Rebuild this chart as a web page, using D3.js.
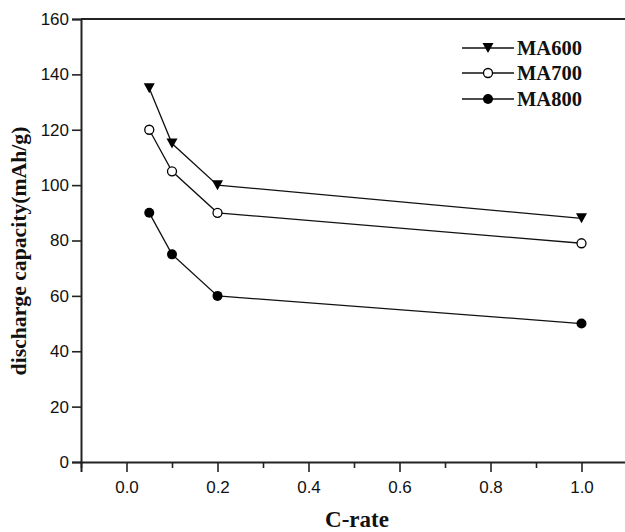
<!DOCTYPE html>
<html><head><meta charset="utf-8">
<script src="https://cdn.jsdelivr.net/npm/d3@7"></script>
<style>body{margin:0;background:#fff}svg{display:block}</style>
</head><body>
<svg id="c" width="625" height="532"></svg>
<script>
const xValues = [0.05, 0.1, 0.2, 1.0];
const seriesNames = ["MA600", "MA700", "MA800"];
const ma600 = [135, 115, 100, 88];
const ma700 = [120, 105, 90, 79];
const ma800 = [90, 75, 60, 50];
const xMajorTicks = [0.0, 0.2, 0.4, 0.6, 0.8, 1.0];
const xMinorTicks = [-0.1, 0.1, 0.3, 0.5, 0.7, 0.9, 1.1];
const yTicks = [0, 20, 40, 60, 80, 100, 120, 140, 160];

const svg = d3.select("#c");
const L = 81, R = 627, T = 19, B = 462;
const x = d3.scaleLinear().domain([-0.1, 1.1]).range([L, R]);
const y = d3.scaleLinear().domain([0, 160]).range([B, T]);

const sans = "'Liberation Sans', Arial, sans-serif";
const serif = "'Liberation Serif', 'Times New Roman', serif";

// y axis
const ya = svg.append("g").attr("transform", `translate(${L},0)`)
  .call(d3.axisLeft(y).tickValues(yTicks).tickSize(9).tickPadding(3).tickFormat(d3.format("d")));
ya.select(".domain").attr("stroke", "#222").attr("stroke-width", 2);
ya.selectAll(".tick line").attr("stroke", "#222").attr("stroke-width", 1.6);
ya.selectAll(".tick text").attr("font-family", sans).attr("font-size", 17).attr("fill", "#111");

// x axis major
const xa = svg.append("g").attr("transform", `translate(0,${B})`)
  .call(d3.axisBottom(x).tickValues(xMajorTicks).tickSize(10).tickPadding(9).tickFormat(d3.format(".1f")));
xa.select(".domain").attr("stroke", "#222").attr("stroke-width", 2);
xa.selectAll(".tick line").attr("stroke", "#222").attr("stroke-width", 1.6);
xa.selectAll(".tick text").attr("font-family", sans).attr("font-size", 17).attr("fill", "#111");
// x minor
const xm = svg.append("g").attr("transform", `translate(0,${B})`)
  .call(d3.axisBottom(x).tickValues(xMinorTicks).tickSize(6).tickFormat(""));
xm.select(".domain").remove();
xm.selectAll(".tick line").attr("stroke", "#222").attr("stroke-width", 1.6);

// top frame
svg.append("line").attr("x1", L).attr("x2", R).attr("y1", y(160)).attr("y2", y(160))
  .attr("stroke", "#222").attr("stroke-width", 2);

// axis titles
svg.append("text").attr("x", 357).attr("y", 527).attr("text-anchor", "middle")
  .attr("font-family", serif).attr("font-weight", "bold").attr("font-size", 23).attr("fill", "#111").text("C-rate");
svg.append("text").attr("transform", "translate(26,251) rotate(-90)").attr("text-anchor", "middle")
  .attr("font-family", serif).attr("font-weight", "bold").attr("font-size", 21.7).attr("fill", "#111")
  .text("discharge capacity(mAh/g)");

const series = [
  {name: seriesNames[0], values: ma600, marker: "tri"},
  {name: seriesNames[1], values: ma700, marker: "open"},
  {name: seriesNames[2], values: ma800, marker: "fill"}
];
const line = d3.line().x((d, i) => x(xValues[i])).y(d => y(d));

function drawMarker(g, type, cx, cy) {
  if (type === "tri") {
    g.append("path").attr("d", `M${cx-5.5},${cy-5} L${cx+5.5},${cy-5} L${cx},${cy+5} Z`).attr("fill", "#000");
  } else if (type === "open") {
    g.append("circle").attr("cx", cx).attr("cy", cy).attr("r", 4.5).attr("fill", "#fff").attr("stroke", "#000").attr("stroke-width", 1.3);
  } else {
    g.append("circle").attr("cx", cx).attr("cy", cy).attr("r", 5).attr("fill", "#000");
  }
}

series.forEach(s => {
  svg.append("path").datum(s.values).attr("d", line).attr("fill", "none").attr("stroke", "#111").attr("stroke-width", 1.3);
  const g = svg.append("g");
  s.values.forEach((v, i) => drawMarker(g, s.marker, x(xValues[i]), y(v)));
});

// legend
const legY = [48, 73, 99];
series.forEach((s, i) => {
  const g = svg.append("g");
  g.append("line").attr("x1", 462).attr("x2", 514).attr("y1", legY[i]).attr("y2", legY[i]).attr("stroke", "#111").attr("stroke-width", 1.3);
  drawMarker(g, s.marker, 488, legY[i]);
  g.append("text").attr("x", 517).attr("y", legY[i] + 7).attr("font-family", serif).attr("font-weight", "bold")
    .attr("font-size", 20.5).attr("fill", "#111").text(s.name);
});
</script>
</body></html>
